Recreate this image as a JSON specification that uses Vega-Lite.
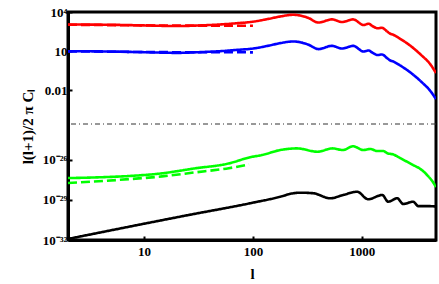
{
  "$schema": "https://vega.github.io/schema/vega-lite/v6.json",
  "width": 368,
  "height": 228,
  "autosize": {"type": "none"},
  "padding": {"left": 68, "top": 12, "right": 3, "bottom": 44},
  "background": "white",
  "config": {
    "view": {"stroke": "#000000", "strokeWidth": 3, "strokeOpacity": 1},
    "axis": {"domainColor": "#000000", "domainWidth": 3, "domainOpacity": 1, "tickColor": "#000000", "tickOpacity": 1, "zindex": 1},
    "font": "Liberation Serif"
  },
  "layer": [
    {
      "data": {"values": [{"gap": 1e-10}]},
      "mark": {"type": "rule", "color": "#333333", "strokeWidth": 1, "strokeDash": [5, 3, 1, 3]},
      "encoding": {"y": {"field": "gap", "type": "quantitative"}}
    },
    {
      "data": {"values": [
        {"s": "T", "k": "solid", "l": 2, "cl": 1100},
        {"s": "T", "k": "solid", "l": 3, "cl": 1080},
        {"s": "T", "k": "solid", "l": 5, "cl": 1040},
        {"s": "T", "k": "solid", "l": 10, "cl": 930},
        {"s": "T", "k": "solid", "l": 20, "cl": 830},
        {"s": "T", "k": "solid", "l": 35, "cl": 950},
        {"s": "T", "k": "solid", "l": 50, "cl": 1100},
        {"s": "T", "k": "solid", "l": 70, "cl": 1350},
        {"s": "T", "k": "solid", "l": 100, "cl": 1800},
        {"s": "T", "k": "solid", "l": 140, "cl": 3000},
        {"s": "T", "k": "solid", "l": 180, "cl": 4600},
        {"s": "T", "k": "solid", "l": 232, "cl": 6100},
        {"s": "T", "k": "solid", "l": 270, "cl": 5400},
        {"s": "T", "k": "solid", "l": 320, "cl": 3600},
        {"s": "T", "k": "solid", "l": 400, "cl": 1550},
        {"s": "T", "k": "solid", "l": 530, "cl": 2700},
        {"s": "T", "k": "solid", "l": 660, "cl": 1700},
        {"s": "T", "k": "solid", "l": 830, "cl": 2700},
        {"s": "T", "k": "solid", "l": 1040, "cl": 1000},
        {"s": "T", "k": "solid", "l": 1150, "cl": 1250},
        {"s": "T", "k": "solid", "l": 1260, "cl": 800},
        {"s": "T", "k": "solid", "l": 1400, "cl": 560},
        {"s": "T", "k": "solid", "l": 1530, "cl": 610},
        {"s": "T", "k": "solid", "l": 1700, "cl": 330},
        {"s": "T", "k": "solid", "l": 1800, "cl": 230},
        {"s": "T", "k": "solid", "l": 1950, "cl": 175},
        {"s": "T", "k": "solid", "l": 2250, "cl": 87},
        {"s": "T", "k": "solid", "l": 2800, "cl": 25},
        {"s": "T", "k": "solid", "l": 3500, "cl": 5},
        {"s": "T", "k": "solid", "l": 4300, "cl": 0.85},
        {"s": "T", "k": "solid", "l": 4800, "cl": 0.2},
        {"s": "T", "k": "dashed", "l": 2, "cl": 1050},
        {"s": "T", "k": "dashed", "l": 5, "cl": 980},
        {"s": "T", "k": "dashed", "l": 10, "cl": 930},
        {"s": "T", "k": "dashed", "l": 20, "cl": 900},
        {"s": "T", "k": "dashed", "l": 50, "cl": 890},
        {"s": "T", "k": "dashed", "l": 100, "cl": 880},
        {"s": "E", "k": "solid", "l": 2, "cl": 9.7},
        {"s": "E", "k": "solid", "l": 3, "cl": 9.5},
        {"s": "E", "k": "solid", "l": 5, "cl": 9.1},
        {"s": "E", "k": "solid", "l": 10, "cl": 8.1},
        {"s": "E", "k": "solid", "l": 20, "cl": 7.2},
        {"s": "E", "k": "solid", "l": 35, "cl": 8.4},
        {"s": "E", "k": "solid", "l": 50, "cl": 9.7},
        {"s": "E", "k": "solid", "l": 70, "cl": 12},
        {"s": "E", "k": "solid", "l": 100, "cl": 15.5},
        {"s": "E", "k": "solid", "l": 140, "cl": 26},
        {"s": "E", "k": "solid", "l": 180, "cl": 41},
        {"s": "E", "k": "solid", "l": 232, "cl": 54},
        {"s": "E", "k": "solid", "l": 270, "cl": 48},
        {"s": "E", "k": "solid", "l": 320, "cl": 31.6},
        {"s": "E", "k": "solid", "l": 400, "cl": 14},
        {"s": "E", "k": "solid", "l": 530, "cl": 25},
        {"s": "E", "k": "solid", "l": 660, "cl": 15.5},
        {"s": "E", "k": "solid", "l": 830, "cl": 25},
        {"s": "E", "k": "solid", "l": 1040, "cl": 9.1},
        {"s": "E", "k": "solid", "l": 1150, "cl": 11},
        {"s": "E", "k": "solid", "l": 1260, "cl": 7.1},
        {"s": "E", "k": "solid", "l": 1400, "cl": 4.9},
        {"s": "E", "k": "solid", "l": 1530, "cl": 5.4},
        {"s": "E", "k": "solid", "l": 1700, "cl": 2.9},
        {"s": "E", "k": "solid", "l": 1800, "cl": 2.0},
        {"s": "E", "k": "solid", "l": 1950, "cl": 1.55},
        {"s": "E", "k": "solid", "l": 2250, "cl": 0.77},
        {"s": "E", "k": "solid", "l": 2800, "cl": 0.22},
        {"s": "E", "k": "solid", "l": 3500, "cl": 0.045},
        {"s": "E", "k": "solid", "l": 4300, "cl": 0.0076},
        {"s": "E", "k": "solid", "l": 4800, "cl": 0.002},
        {"s": "E", "k": "dashed", "l": 2, "cl": 9.4},
        {"s": "E", "k": "dashed", "l": 5, "cl": 8.8},
        {"s": "E", "k": "dashed", "l": 10, "cl": 8.3},
        {"s": "E", "k": "dashed", "l": 20, "cl": 8.1},
        {"s": "E", "k": "dashed", "l": 50, "cl": 8.0},
        {"s": "E", "k": "dashed", "l": 100, "cl": 7.9},
        {"s": "B", "k": "solid", "l": 2, "cl": 4.2e-28},
        {"s": "B", "k": "solid", "l": 3, "cl": 4.5e-28},
        {"s": "B", "k": "solid", "l": 4.5, "cl": 5.0e-28},
        {"s": "B", "k": "solid", "l": 7.3, "cl": 6.0e-28},
        {"s": "B", "k": "solid", "l": 14.6, "cl": 9.5e-28},
        {"s": "B", "k": "solid", "l": 29, "cl": 2.2e-27},
        {"s": "B", "k": "solid", "l": 60, "cl": 5.2e-27},
        {"s": "B", "k": "solid", "l": 94, "cl": 1.5e-26},
        {"s": "B", "k": "solid", "l": 121, "cl": 2.2e-26},
        {"s": "B", "k": "solid", "l": 178, "cl": 5.2e-26},
        {"s": "B", "k": "solid", "l": 254, "cl": 6.9e-26},
        {"s": "B", "k": "solid", "l": 390, "cl": 3.9e-26},
        {"s": "B", "k": "solid", "l": 540, "cl": 6.9e-26},
        {"s": "B", "k": "solid", "l": 670, "cl": 5.2e-26},
        {"s": "B", "k": "solid", "l": 830, "cl": 1.0e-25},
        {"s": "B", "k": "solid", "l": 1030, "cl": 5.2e-26},
        {"s": "B", "k": "solid", "l": 1200, "cl": 6.2e-26},
        {"s": "B", "k": "solid", "l": 1380, "cl": 4.4e-26},
        {"s": "B", "k": "solid", "l": 1580, "cl": 4.4e-26},
        {"s": "B", "k": "solid", "l": 1700, "cl": 3.1e-26},
        {"s": "B", "k": "solid", "l": 1950, "cl": 2.4e-26},
        {"s": "B", "k": "solid", "l": 2250, "cl": 1.3e-26},
        {"s": "B", "k": "solid", "l": 2950, "cl": 4.0e-27},
        {"s": "B", "k": "solid", "l": 3450, "cl": 2.0e-27},
        {"s": "B", "k": "solid", "l": 3980, "cl": 7.1e-28},
        {"s": "B", "k": "solid", "l": 4500, "cl": 2.1e-28},
        {"s": "B", "k": "solid", "l": 4800, "cl": 9.0e-29},
        {"s": "B", "k": "dashed", "l": 2, "cl": 1.8e-28},
        {"s": "B", "k": "dashed", "l": 7.3, "cl": 3.5e-28},
        {"s": "B", "k": "dashed", "l": 14.6, "cl": 5.6e-28},
        {"s": "B", "k": "dashed", "l": 29, "cl": 1.1e-27},
        {"s": "B", "k": "dashed", "l": 60, "cl": 2.3e-27},
        {"s": "B", "k": "dashed", "l": 92, "cl": 4.3e-27},
        {"s": "P", "k": "solid", "l": 2, "cl": 1.2e-32},
        {"s": "P", "k": "solid", "l": 26, "cl": 7.5e-31},
        {"s": "P", "k": "solid", "l": 94, "cl": 5.5e-30},
        {"s": "P", "k": "solid", "l": 178, "cl": 1.7e-29},
        {"s": "P", "k": "solid", "l": 230, "cl": 3.0e-29},
        {"s": "P", "k": "solid", "l": 271, "cl": 3.4e-29},
        {"s": "P", "k": "solid", "l": 357, "cl": 3.1e-29},
        {"s": "P", "k": "solid", "l": 512, "cl": 1.3e-29},
        {"s": "P", "k": "solid", "l": 674, "cl": 2.3e-29},
        {"s": "P", "k": "solid", "l": 906, "cl": 4.0e-29},
        {"s": "P", "k": "solid", "l": 1143, "cl": 1.1e-29},
        {"s": "P", "k": "solid", "l": 1539, "cl": 2.3e-29},
        {"s": "P", "k": "solid", "l": 1746, "cl": 7.2e-30},
        {"s": "P", "k": "solid", "l": 2113, "cl": 1.3e-29},
        {"s": "P", "k": "solid", "l": 2399, "cl": 4.9e-30},
        {"s": "P", "k": "solid", "l": 2966, "cl": 7.2e-30},
        {"s": "P", "k": "solid", "l": 3296, "cl": 3.4e-30},
        {"s": "P", "k": "solid", "l": 3990, "cl": 3.4e-30},
        {"s": "P", "k": "solid", "l": 4800, "cl": 3.2e-30}
      ]},
      "mark": {"type": "line", "interpolate": "monotone", "strokeWidth": 2.6, "clip": true},
      "encoding": {
        "x": {
          "field": "l", "type": "quantitative",
          "scale": {"type": "log", "domain": [2, 4800], "nice": false},
          "axis": {
            "values": [10, 100, 1000], "format": "d", "grid": false,
            "labelFont": "Liberation Serif", "labelFontWeight": "bold", "labelFontSize": 13, "labelColor": "black",
            "tickSize": -4, "tickWidth": 2, "labelPadding": 9,
            "title": "l", "titleFont": "Liberation Serif", "titleFontWeight": "bold", "titleFontSize": 15, "titleColor": "black", "titlePadding": 8
          }
        },
        "y": {
          "field": "cl", "type": "quantitative",
          "scale": {"type": "log", "domain": [1e-32, 4.57e-24, 2.43e-5, 10000], "range": [228, 112, 112, 0], "nice": false},
          "axis": {
            "values": [1e-32, 1e-29, 1e-26, 0.01, 10, 10000], "grid": false,
            "labelExpr": "datum.value > 1000 ? '10⁴' : datum.value > 1 ? '10' : datum.value > 0.001 ? '0.01' : datum.value > 1e-27 ? '10⁻²⁶' : datum.value > 1e-30 ? '10⁻²⁹' : '10⁻³²'",
            "labelFont": "Liberation Serif", "labelFontWeight": "bold", "labelFontSize": 13, "labelColor": "black",
            "tickSize": -4, "tickWidth": 2, "labelPadding": 5,
            "title": "l(l+1)/2 π Cₗ", "titleFont": "Liberation Serif", "titleFontWeight": "bold", "titleFontSize": 15, "titleColor": "black", "titlePadding": 7
          }
        },
        "color": {"field": "s", "type": "nominal", "scale": {"domain": ["T", "E", "B", "P"], "range": ["#ff0000", "#0000ff", "#00ff00", "#000000"]}, "legend": null},
        "strokeDash": {"field": "k", "type": "nominal", "scale": {"domain": ["solid", "dashed"], "range": [[1, 0], [9, 4]]}, "legend": null}
      }
    }
  ]
}
